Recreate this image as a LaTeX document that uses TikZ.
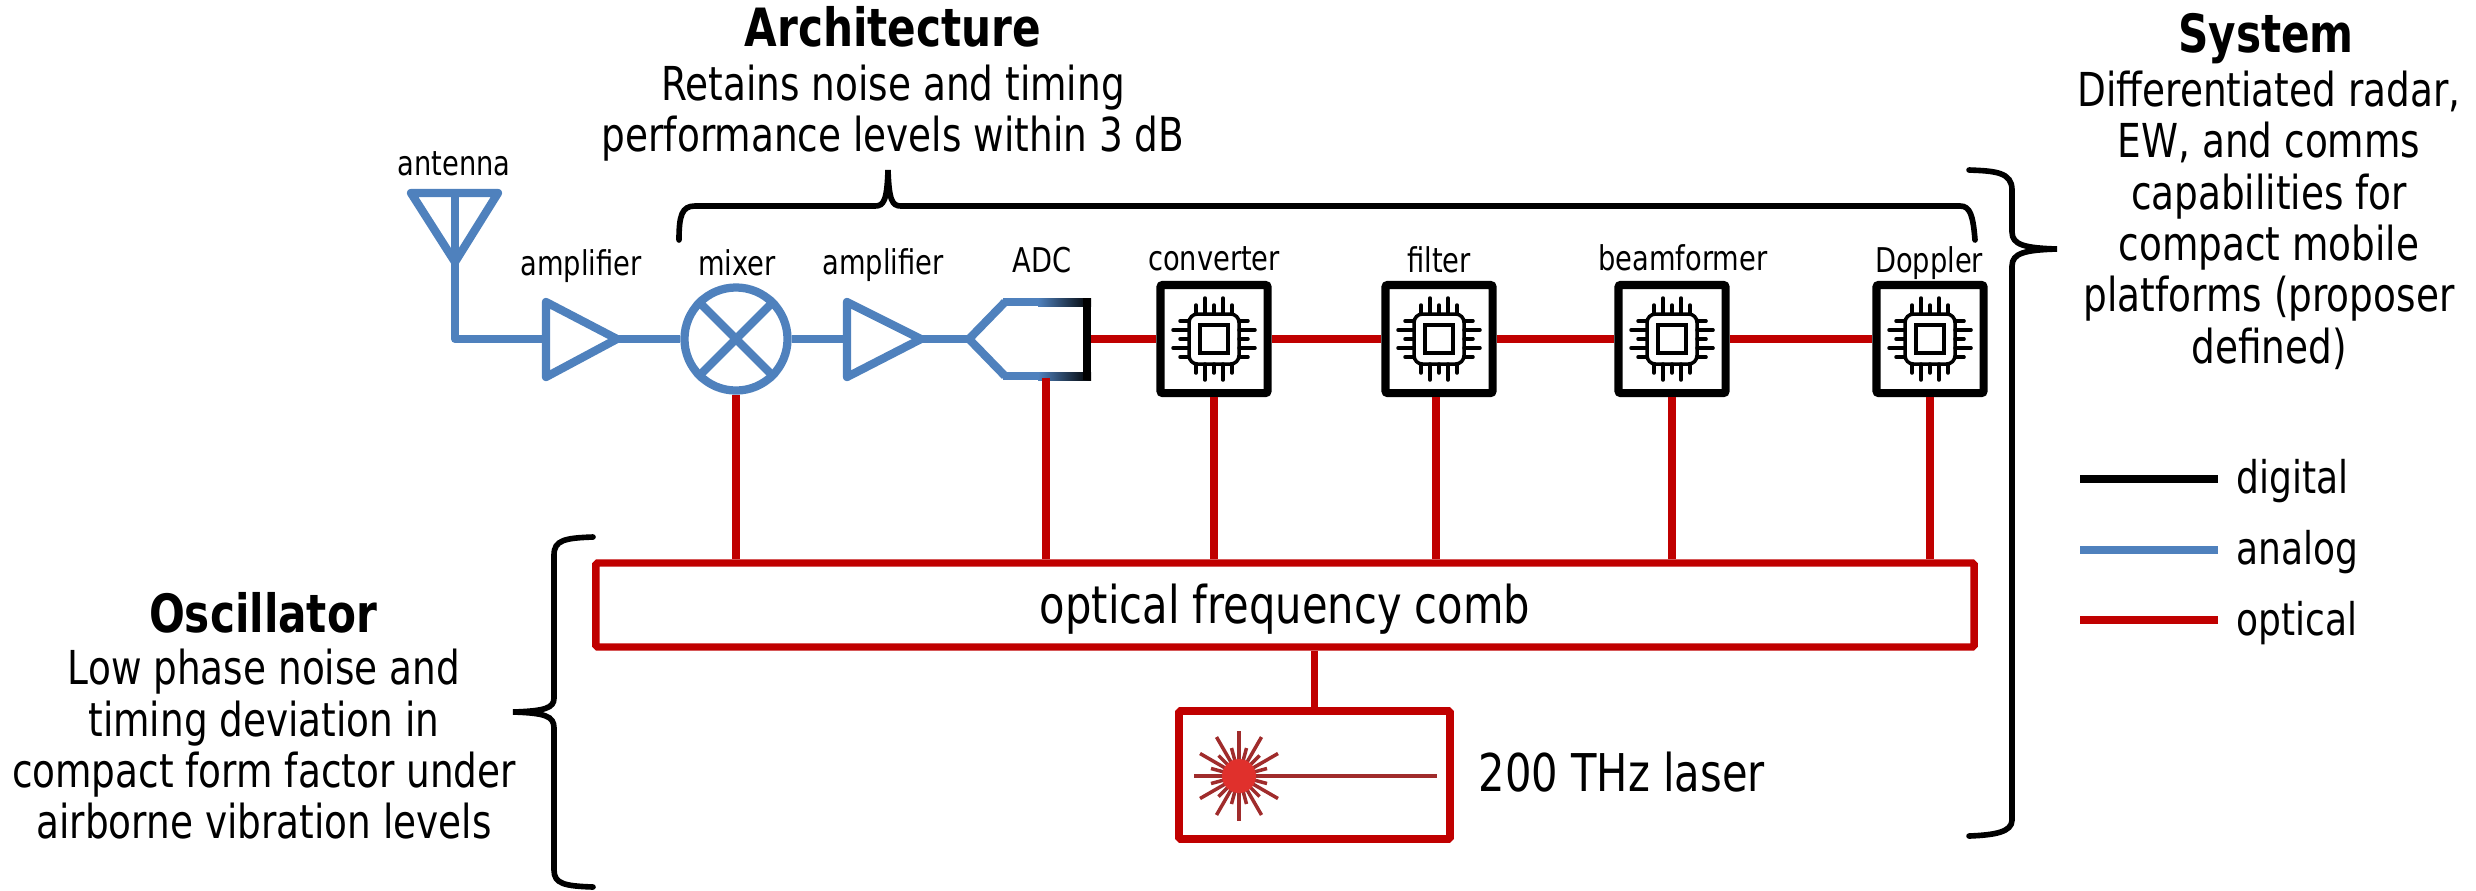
\documentclass[tikz,border=0pt]{standalone}
\usepackage{fontspec}
\setmainfont{DejaVu Sans}[FakeStretch=0.8]
\definecolor{blu}{HTML}{4F81BD}
\definecolor{rd}{HTML}{C00000}
\definecolor{raycol}{HTML}{A02C2C}
\definecolor{core}{HTML}{E0302C}
\tikzset{
 x=0.01cm,y=-0.01cm,
 analog/.style={draw=blu,line width=2.35pt,line join=round},
 wire/.style={draw=rd,line width=2.1pt},
 legendred/.style={draw=rd,line width=2.35pt},
 blackl/.style={draw=black,line width=2.35pt},
 brace/.style={draw=black,line width=1.6pt,line cap=round},
 chipbox/.style={draw=black,line width=2.3pt,fill=white,minimum width=1.07cm,minimum height=1.08cm,inner sep=0pt,rounded corners=0.6pt},
 lab/.style={font=\fontsize{9.7pt}{12pt}\selectfont,inner sep=0pt,anchor=base},
 big/.style={font=\fontsize{13.3pt}{14.6pt}\selectfont,align=center,inner sep=0pt},
 head/.style={font=\fontsize{15pt}{16pt}\selectfont\bfseries,inner sep=0pt,anchor=base},
 mid/.style={font=\fontsize{14.8pt}{17pt}\selectfont,inner sep=0pt},
 leg/.style={font=\fontsize{12.8pt}{15pt}\selectfont,inner sep=0pt,anchor=base west},
 pin/.style={line width=1pt,line cap=round},
}
\newcommand{\chipicon}[1]{%
 \begin{scope}[shift={(#1)}]
  \draw[line width=1pt,rounded corners=2.4pt] (-25,-25) rectangle (25,25);
  \draw[line width=1pt] (-14,-14) rectangle (14,14);
  \foreach \p/\l in {-18/34,-9/41,0/34,9/41,18/34}{
   \draw[pin] (\p,-25) -- (\p,-\l);
   \draw[pin] (\p,25) -- (\p,\l);
   \draw[pin] (-25,\p) -- (-\l,\p);
   \draw[pin] (25,\p) -- (\l,\p);
  }
 \end{scope}}
\begin{document}
\begin{tikzpicture}
\useasboundingbox (0,0) rectangle (2476,890);
\coordinate (anttip) at (455,262);
\coordinate (antL) at (411,193);
\coordinate (antR) at (498,193);
\coordinate (antTop) at (455,193);
\coordinate (antC) at (455,339);
\node[chipbox] (conv) at (1214,339) {};
\node[chipbox] (filt) at (1439,339) {};
\node[chipbox] (beam) at (1672,339) {};
\node[chipbox] (dopp) at (1930,339) {};
\node[draw=rd,line width=2.1pt,minimum width=13.775cm,minimum height=0.84cm,inner sep=0pt,rounded corners=0.5pt] (comb) at (1285,605) {};
\node[draw=rd,line width=2.2pt,minimum width=2.71cm,minimum height=1.28cm,inner sep=0pt,rounded corners=0.5pt] (laser) at (1314.5,775) {};
\node[circle,draw=blu,line width=2.35pt,minimum size=1.03cm,inner sep=0pt] (mixer) at (736,339) {};
\coordinate (amp1L) at (546,339);
\coordinate (amp1R) at (617,339);
\coordinate (amp2L) at (847,339);
\coordinate (amp2R) at (921,339);
\coordinate (adcT) at (969,339);
\coordinate (adcB) at (1046,376);
% antenna
\draw[analog] (antL) -- (antR) -- (anttip) -- cycle;
\draw[analog] (antTop) -- (anttip) -- (antC) -- (amp1L);
% amps
\draw[analog] (546,302) -- (amp1R) -- (546,377) -- cycle;
\draw[analog] (847,302) -- (amp2R) -- (847,377) -- cycle;
\draw[analog] (amp1R) -- (mixer);
\draw[analog] (mixer) -- (amp2L);
\draw[analog] (amp2R) -- (adcT);
\draw[analog] (mixer.north west) -- (mixer.south east);
\draw[analog] (mixer.north east) -- (mixer.south west);
% ADC
\shade[left color=blu,right color=black] (1038,298) rectangle (1091,306);
\shade[left color=blu,right color=black] (1038,372) rectangle (1091,380);
\fill[blu] (1003,298) rectangle (1038.5,306);
\fill[blu] (1003,372) rectangle (1038.5,380);
\fill[black] (1083,298) rectangle (1091,380);
\draw[analog] (1005,302) -- (adcT) -- (1005,376);
% chain wires
\draw[wire] (1091,339) -- (conv);
\draw[wire] (conv) -- (filt);
\draw[wire] (filt) -- (beam);
\draw[wire] (beam) -- (dopp);
% verticals
\draw[wire] (mixer.south) -- (mixer.south |- comb.north);
\draw[wire] (1046,378) -- (adcB |- comb.north);
\draw[wire] (conv.south) -- (conv.south |- comb.north);
\draw[wire] (1436,397) -- (1436,0 |- comb.north);
\draw[wire] (beam.south) -- (beam.south |- comb.north);
\draw[wire] (dopp.south) -- (dopp.south |- comb.north);
\draw[wire] (comb.south -| laser.north) -- (laser.north);
% chip icons
\chipicon{1214,339}\chipicon{1439,339}\chipicon{1672,339}\chipicon{1930,339}
% laser
\begin{scope}[shift={(1239,776)}]
 \foreach \a in {0,30,...,330}{\draw[raycol,line width=1pt] (0,0) -- (\a:45);}
 \foreach \a in {15,45,...,345}{\draw[raycol,line width=1pt] (0,0) -- (\a:29);}
\end{scope}
\draw[raycol,line width=1pt] (1239,776) -- (1437,776);
\fill[core] (1239,776) circle (17);
% braces
\draw[brace] (679,240) .. controls (679,215) and (682,206) .. (695,206) -- (875,206) .. controls (884,206) and (887,200) .. (888,170) .. controls (889,200) and (892,206) .. (901,206) -- (1960,206) .. controls (1970,206) and (1973,215) .. (1975,240);
\draw[brace] (1969,170) .. controls (1995,171) and (2012,172) .. (2012,190) -- (2012,232) .. controls (2012,245) and (2025,248) .. (2057,249) .. controls (2025,250) and (2012,253) .. (2012,266) -- (2012,820) .. controls (2012,832) and (1995,835) .. (1969,836);
\draw[brace] (593,537) .. controls (565,538) and (554,540) .. (554,555) -- (554,698) .. controls (554,708) and (545,711) .. (513,712) .. controls (545,713) and (554,716) .. (554,728) -- (554,870) .. controls (554,884) and (565,886) .. (593,887);
% small labels
\node[lab] (tAnt) at (454,175) {antenna};
\node[lab] (tA1) at (581,275) {amplifier};
\node[lab] (tMix) at (737,275) {mixer};
\node[lab] (tA2) at (883,274) {amplifier};
\node[lab] (tADC) at (1042,272) {ADC};
\node[lab] (tConv) at (1214,270) {converter};
\node[lab] (tFilt) at (1439,272) {filter};
\node[lab] (tBeam) at (1683,270) {beamformer};
\node[lab] (tDop) at (1929,272) {Doppler};
% big text
\node[head] (arch) at (893,46) {Architecture};
\node[big] (archt) at (893,113) {Retains noise and timing\\performance levels within 3 dB};
\node[head] (sys) at (2266,52) {System};
\node[big] (syst) at (2269,220) {Differentiated radar,\\EW, and comms\\capabilities for\\compact mobile\\platforms (proposer\\defined)};
\node[head] (osc) at (263,632) {Oscillator};
\node[big] (osct) at (264,744.5) {Low phase noise and\\timing deviation in\\compact form factor under\\airborne vibration levels};
\node[mid] (combt) at (1285,609) {optical frequency comb};
\node[mid,anchor=west] (lasert) at (1478,772) {200 THz laser};
% legend
\coordinate (k1a) at (2080,479); \coordinate (k1b) at (2218,479);
\coordinate (k2a) at (2080,550); \coordinate (k2b) at (2218,550);
\coordinate (k3a) at (2080,620); \coordinate (k3b) at (2218,620);
\draw[blackl] (k1a) -- (k1b);
\draw[analog] (k2a) -- (k2b);
\draw[legendred] (k3a) -- (k3b);
\node[leg] (l1) at (2236,493) {digital};
\node[leg] (l2) at (2236,564) {analog};
\node[leg] (l3) at (2236,635) {optical};
\end{tikzpicture}
\end{document}
